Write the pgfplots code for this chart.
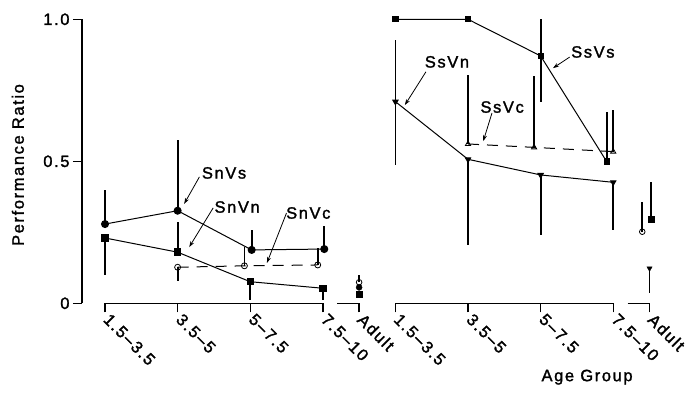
\documentclass[border=0pt]{standalone}
\usepackage{fontspec}
\setmainfont{Liberation Sans}[LetterSpace=10, FakeBold=1.6]
\usepackage{pgfplots}
\pgfplotsset{compat=1.18}
\usepackage{pgfplotstable}
\usetikzlibrary{arrows.meta}

\pgfplotstableread{
x y ep em
0 0.279 0.120 0
1 0.326 0.250 0
2.02 0.188 0.070 0
3.02 0.191 0.082 0
}\SnVs
\pgfplotstableread{
x y ep em
0 0.230 0 0.130
1 0.180 0.105 0
2 0.076 0 0.066
3 0.053 0 0.043
}\SnVn
\pgfplotstableread{
x y ep em
1 0.127 0 0.047
1.92 0.132 0.068 0
2.93 0.135 0.060 0
}\SnVc
\pgfplotstableread{
x y ep em
4 1.0 0 0
5 1.0 0 0
6 0.871 0.129 0.161
6.91 0.499 0.176 0
}\SsVs
\pgfplotstableread{
x y ep em
4 0.710 0.217 0.223
5 0.507 0 0.302
6 0.452 0 0.212
7 0.426 0 0.168
}\SsVn
\pgfplotstableread{
x y ep em
5 0.561 0.243 0
5.91 0.549 0.251 0
7 0.534 0.146 0
}\SsVc
\pgfplotstableread{
x y ep em
3.5 0.074 0.025 0
7.40 0.252 0.106 0
}\AdultVc
\pgfplotstableread{
x y ep em
3.5 0.056 0 0
}\AdultSnVs
\pgfplotstableread{
x y ep em
3.5 0.033 0 0
7.52 0.297 0.131 0
}\AdultSq
\pgfplotstableread{
x y ep em
7.50 0.123 0 0.088
}\AdultVn

\begin{document}
\begin{tikzpicture}[font=\fontsize{16.5}{19}\selectfont]
\begin{axis}[
  x=72.6bp, y=284bp,
  xmin=-0.317, xmax=7.6, ymin=0, ymax=1,
  axis x line=bottom, axis y line=left,
  axis line style={-, line width=1.5bp},
  x axis line style={draw=none},
  clip=false,
  tick align=outside,
  major tick length=9bp,
  tick style={line width=1.4bp, black},
  ytick={0,0.5,1}, yticklabels={0,0.5,1.0},
  xtick={0,1,2,3,3.5,4,5,6,7,7.5},
  xticklabels={1.5--3.5,3.5--5,5--7.5,7.5--10,Adult,1.5--3.5,3.5--5,5--7.5,7.5--10,Adult},
  xticklabel style={rotate=-45, anchor=north west, inner sep=0pt, xshift=4bp, yshift=4bp},
  /pgf/number format/assume math mode=true,
  error bars/y dir=both, error bars/y explicit,
  error bars/error mark=none,
  error bars/error bar style={line width=1.8bp, solid},
]
% Sn group
\addplot[black, line width=1bp, mark=*, mark size=3.5bp]
  table[x=x, y=y, y error plus=ep, y error minus=em] {\SnVs};
\addplot[black, line width=1bp, mark=square*, mark size=3.2bp]
  table[x=x, y=y, y error plus=ep, y error minus=em] {\SnVn};
\addplot[black, line width=1bp, dash pattern=on 11bp off 8bp, mark=o, mark size=3bp, mark options={solid, fill=white, line width=0.8bp}]
  table[x=x, y=y, y error plus=ep, y error minus=em] {\SnVc};
% Ss group
\addplot[black, line width=1bp, mark=square*, mark size=2.6bp]
  table[x=x, y=y, y error plus=ep, y error minus=em] {\SsVs};
\addplot[black, line width=1bp, mark=triangle*, mark size=3bp, mark options={rotate=180}]
  table[x=x, y=y, y error plus=ep, y error minus=em] {\SsVn};
\addplot[black, line width=1bp, dash pattern=on 11bp off 8bp, mark=triangle, mark size=3bp, mark options={solid, fill=white, line width=0.8bp}]
  table[x=x, y=y, y error plus=ep, y error minus=em] {\SsVc};
% Adult points
\addplot[only marks, black, mark=o, mark size=2.8bp, mark options={fill=white, line width=0.8bp}]
  table[x=x, y=y, y error plus=ep, y error minus=em] {\AdultVc};
\addplot[only marks, black, mark=*, mark size=3bp]
  table[x=x, y=y, y error plus=ep, y error minus=em] {\AdultSnVs};
\addplot[only marks, black, mark=square*, mark size=3bp]
  table[x=x, y=y, y error plus=ep, y error minus=em] {\AdultSq};
\addplot[only marks, black, mark=triangle*, mark size=3bp, mark options={rotate=180}]
  table[x=x, y=y, y error plus=ep, y error minus=em] {\AdultVn};
% segmented x axis
\draw[line width=1.5bp] (axis cs:0,0) -- (axis cs:3,0);
\draw[line width=1.5bp] (axis cs:3.2,0) -- (axis cs:3.5,0);
\draw[line width=1.5bp] (axis cs:4,0) -- (axis cs:7,0);
\draw[line width=1.5bp] (axis cs:7.2,0) -- (axis cs:7.5,0);
% annotations
\node at (axis cs:1.64,0.459) {SnVs};
\draw[line width=0.8bp, -{Stealth[length=6bp,width=4bp]}] (axis cs:1.30,0.445) -- (axis cs:1.09,0.35);
\node at (axis cs:1.82,0.339) {SnVn};
\draw[line width=0.8bp, -{Stealth[length=6bp,width=4bp]}] (axis cs:1.49,0.336) -- (axis cs:1.16,0.198);
\node at (axis cs:2.80,0.318) {SnVc};
\draw[line width=0.8bp, -{Stealth[length=6bp,width=4bp]}] (axis cs:2.50,0.318) -- (axis cs:2.23,0.142);
\node at (axis cs:4.71,0.85) {SsVn};
\draw[line width=0.8bp, -{Stealth[length=6bp,width=4bp]}] (axis cs:4.42,0.815) -- (axis cs:4.13,0.698);
\node at (axis cs:5.47,0.691) {SsVc};
\draw[line width=0.8bp, -{Stealth[length=6bp,width=4bp]}] (axis cs:5.33,0.670) -- (axis cs:5.21,0.571);
\node at (axis cs:6.72,0.885) {SsVs};
\draw[line width=0.8bp, -{Stealth[length=6bp,width=4bp]}] (axis cs:6.40,0.867) -- (axis cs:6.17,0.828);
% axis titles
\node[rotate=90] at (axis cs:-1.2,0.487) {Performance Ratio};
\node at (axis cs:6.64,-0.26) {Age Group};
\end{axis}
\pgfresetboundingbox
\path (-82bp,-91.7bp) rectangle (615bp,303.3bp);
\end{tikzpicture}
\end{document}
